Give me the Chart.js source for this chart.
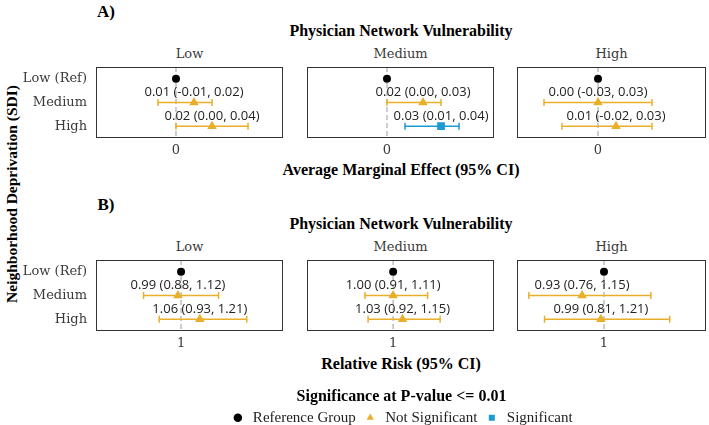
<!DOCTYPE html>
<html lang="en">
<head>
  <meta charset="UTF-8">
  <title>Neighborhood deprivation by physician network vulnerability</title>
  <script src="https://cdn.jsdelivr.net/npm/chart.js"></script>
  <style>
    body { margin: 0; background: #fff; }
    #wrap { position: relative; width: 709px; height: 425px; overflow: hidden; }
    .txt { position: absolute; white-space: nowrap; line-height: 1; transform: translate(-50%, -50%); }
    .bold { font-family: "Liberation Serif", serif; font-weight: bold; color: #000; }
    .strip { font-family: "DejaVu Serif", serif; font-size: 13px; color: #3a3a3a; }
    canvas { position: absolute; }
  </style>
</head>
<body>
<div id="wrap">
  <div class="txt bold" style="left:106px; top:11px; font-size:17px">A)</div>
  <div class="txt bold" style="left:401px; top:31px; font-size:16px">Physician Network Vulnerability</div>
  <div class="txt bold" style="left:401px; top:170px; font-size:16px">Average Marginal Effect (95% CI)</div>

  <div class="txt bold" style="left:106px; top:204px; font-size:17px">B)</div>
  <div class="txt bold" style="left:401px; top:224px; font-size:16px">Physician Network Vulnerability</div>
  <div class="txt bold" style="left:401px; top:364px; font-size:16px">Relative Risk (95% CI)</div>

  <div class="txt bold" style="left:12px; top:194px; font-size:15.5px; transform: translate(-50%, -50%) rotate(-90deg)">Neighborhood Deprivation (SDI)</div>
</div>

<script>
  // categories
  const sdiLevels = ['Low (Ref)', 'Medium', 'High'];
  const vulnLevels = ['Low', 'Medium', 'High'];

  // A) average marginal effect, one row per vulnerability panel, values by SDI level
  const ameEst = [[0, 0.01, 0.02], [0, 0.02, 0.03], [0, 0.00, 0.01]];
  const ameLow = [[null, -0.01, 0.00], [null, 0.00, 0.01], [null, -0.03, -0.02]];
  const ameHigh = [[null, 0.02, 0.04], [null, 0.03, 0.04], [null, 0.03, 0.03]];
  const ameSig = [['ref', 'ns', 'ns'], ['ref', 'ns', 'sig'], ['ref', 'ns', 'ns']];
  const ameTick = [0];

  // B) relative risk
  const rrEst = [[1, 0.99, 1.06], [1, 1.00, 1.03], [1, 0.93, 0.99]];
  const rrLow = [[null, 0.88, 0.93], [null, 0.91, 0.92], [null, 0.76, 0.81]];
  const rrHigh = [[null, 1.12, 1.21], [null, 1.11, 1.15], [null, 1.15, 1.21]];
  const rrSig = [['ref', 'ns', 'ns'], ['ref', 'ns', 'ns'], ['ref', 'ns', 'ns']];
  const rrTick = [1];

  const legendLabels = ['Reference Group', 'Not Significant', 'Significant'];
  const sigKeys = ['ref', 'ns', 'sig'];

  const sigColor = { ref: '#000000', ns: '#E9AF2B', sig: '#1B9BD1' };
  const sigShape = { ref: 'circle', ns: 'triangle', sig: 'rect' };
  const sigRadius = { ref: 4, ns: 5.5, sig: 5.5 };

  const tickFont = { family: 'DejaVu Serif', size: 13 };

  // layout of the facet grid
  const boxLefts = [96, 307, 517];
  const boxWidths = [187, 187, 189];
  const boxTops = [67, 260];
  const boxH = 71;
  const yAxisW = 76;
  const xAxisH = 24;

  const fmt = v => v.toFixed(2);

  const panelFrame = {
    id: 'panelFrame',
    beforeDatasetsDraw(chart, args, o) {
      const { ctx, chartArea: a } = chart;
      const px = chart.scales.x.getPixelForValue(o.ref);
      ctx.save();
      ctx.strokeStyle = '#bdbdbd';
      ctx.lineWidth = 1.5;
      ctx.setLineDash([5, 3]);
      ctx.beginPath();
      ctx.moveTo(px, a.top);
      ctx.lineTo(px, a.bottom);
      ctx.stroke();
      ctx.restore();
    },
    afterDatasetsDraw(chart, args, o) {
      const { ctx, chartArea: a } = chart;
      const xs = chart.scales.x, ys = chart.scales.y;
      ctx.save();
      ctx.font = '13px "Open Sans"';
      ctx.fillStyle = '#222';
      ctx.textAlign = 'center';
      ctx.textBaseline = 'middle';
      o.labels.forEach((lab, i) => {
        if (!lab) return;
        ctx.fillText(lab, xs.getPixelForValue(o.est[i]), ys.getPixelForValue(i) - 10);
      });
      ctx.strokeStyle = '#333';
      ctx.lineWidth = 1;
      ctx.strokeRect(a.left + 0.5, a.top + 0.5, a.right - a.left - 1, a.bottom - a.top - 1);
      ctx.restore();
    }
  };

  function makePanel(row, col, est, lo, hi, sig, tick, xMin, xMax) {
    const showY = col === 0;
    const canvas = document.createElement('canvas');
    const left = showY ? boxLefts[col] - yAxisW : boxLefts[col] - 1;
    const w = (showY ? yAxisW : 1) + boxWidths[col] + 1;
    const h = 1 + boxH + xAxisH;
    canvas.width = w; canvas.height = h;
    canvas.style.left = left + 'px';
    canvas.style.top = (boxTops[row] - 1) + 'px';
    canvas.style.width = w + 'px';
    canvas.style.height = h + 'px';
    document.getElementById('wrap').appendChild(canvas);

    // facet strip label
    const strip = document.createElement('div');
    strip.className = 'txt strip';
    strip.style.left = (boxLefts[col] + boxWidths[col] / 2) + 'px';
    strip.style.top = (boxTops[row] - 14) + 'px';
    strip.textContent = vulnLevels[col];
    document.getElementById('wrap').appendChild(strip);

    const datasets = [];
    for (let i = 0; i < sdiLevels.length; i++) {
      if (lo[i] === null) continue;
      const c = sigColor[sig[i]];
      datasets.push({
        type: 'line',
        showLine: true,
        data: [{ x: lo[i], y: sdiLevels[i] }, { x: hi[i], y: sdiLevels[i] }],
        borderColor: c,
        borderWidth: 1.5,
        pointStyle: 'line',
        rotation: 90,
        pointRadius: 3.5,
        pointBorderColor: c,
        pointBorderWidth: 1.5
      });
    }
    for (let i = 0; i < sdiLevels.length; i++) {
      const c = sigColor[sig[i]];
      datasets.push({
        type: 'scatter',
        data: [{ x: est[i], y: sdiLevels[i] }],
        pointStyle: sigShape[sig[i]],
        pointRadius: sigRadius[sig[i]],
        backgroundColor: c,
        borderColor: c,
        borderWidth: 0
      });
    }

    const labels = est.map((v, i) => lo[i] === null ? '' : `${fmt(v)} (${fmt(lo[i])}, ${fmt(hi[i])})`);

    const yScale = {
      type: 'category',
      labels: sdiLevels,
      offset: true,
      display: showY,
      grid: { display: false, drawTicks: false },
      border: { display: false },
      ticks: { padding: 9, color: '#3a3a3a', font: tickFont, autoSkip: false }
    };
    if (showY) {
      yScale.afterFit = s => {
        s.width = yAxisW;
        s.paddingTop = 0;
        s.paddingBottom = 0;
      };
    }

    new Chart(canvas, {
      type: 'scatter',
      data: { datasets },
      options: {
        responsive: false,
        animation: false,
        events: [],
        layout: { autoPadding: false, padding: { top: 1, right: 1, left: showY ? 0 : 1, bottom: 0 } },
        plugins: {
          legend: { display: false },
          tooltip: { enabled: false },
          panelFrame: { ref: tick[0], est, labels }
        },
        scales: {
          x: {
            type: 'linear',
            min: xMin,
            max: xMax,
            afterBuildTicks: s => { s.ticks = tick.map(v => ({ value: v })); },
            grid: { display: false, drawTicks: false },
            border: { display: false },
            ticks: { padding: 5, color: '#3a3a3a', font: tickFont },
            afterFit: s => {
              s.height = xAxisH;
              s.paddingLeft = 0;
              s.paddingRight = 0;
            }
          },
          y: yScale
        }
      },
      plugins: [panelFrame]
    });
  }

  const ameRange = [[-0.0444, 0.0594], [-0.0444, 0.0594], [-0.045, 0.060]];
  const rrRange = [[0.728, 1.326], [0.725, 1.322], [0.722, 1.326]];

  for (let c = 0; c < 3; c++) {
    makePanel(0, c, ameEst[c], ameLow[c], ameHigh[c], ameSig[c], ameTick, ameRange[c][0], ameRange[c][1]);
    makePanel(1, c, rrEst[c], rrLow[c], rrHigh[c], rrSig[c], rrTick, rrRange[c][0], rrRange[c][1]);
  }

  // legend drawn by a chart with empty series (tall canvas: legend may use half of it),
  // centred under the panels rather than the page
  const legCanvas = document.createElement('canvas');
  legCanvas.width = 709; legCanvas.height = 120;
  legCanvas.style.left = '47px'; legCanvas.style.top = '386px';
  legCanvas.style.width = '709px'; legCanvas.style.height = '120px';
  document.getElementById('wrap').appendChild(legCanvas);

  new Chart(legCanvas, {
    type: 'scatter',
    data: {
      datasets: sigKeys.map((k, i) => ({
        label: legendLabels[i],
        data: [],
        pointStyle: sigShape[k],
        backgroundColor: sigColor[k],
        borderColor: sigColor[k],
        borderWidth: 0
      }))
    },
    options: {
      responsive: false,
      animation: false,
      events: [],
      layout: { autoPadding: false, padding: 0 },
      scales: { x: { display: false }, y: { display: false } },
      plugins: {
        tooltip: { enabled: false },
        legend: {
          position: 'top',
          align: 'center',
          title: {
            display: true,
            text: 'Significance at P-value <= 0.01',
            color: '#000',
            font: { family: 'Liberation Serif', size: 16, weight: 'bold' },
            padding: { top: 3, bottom: -5 }
          },
          labels: {
            usePointStyle: true,
            boxWidth: 15,
            boxHeight: 6,
            padding: 7,
            color: '#222',
            font: { family: 'Liberation Serif', size: 15 }
          }
        }
      }
    }
  });
</script>
</body>
</html>
